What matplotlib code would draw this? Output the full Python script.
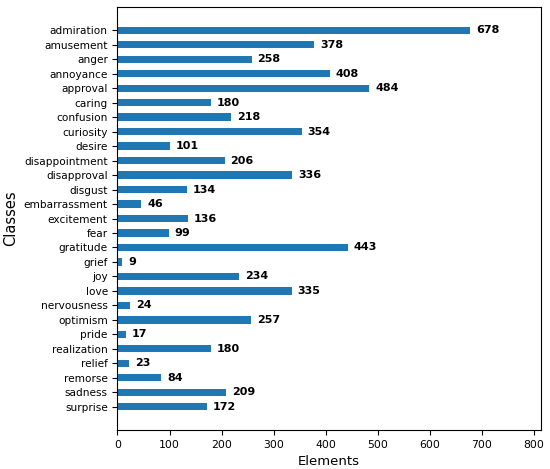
import matplotlib
matplotlib.use("Agg")
import matplotlib.pyplot as plt

classes = ["admiration", "amusement", "anger", "annoyance", "approval", "caring",
           "confusion", "curiosity", "desire", "disappointment", "disapproval",
           "disgust", "embarrassment", "excitement", "fear", "gratitude", "grief",
           "joy", "love", "nervousness", "optimism", "pride", "realization",
           "relief", "remorse", "sadness", "surprise"]
counts = [678, 378, 258, 408, 484, 180, 218, 354, 101, 206, 336, 134, 46, 136,
          99, 443, 9, 234, 335, 24, 257, 17, 180, 23, 84, 209, 172]

fig = plt.figure(figsize=(5.5, 4.69), dpi=100)
ax = fig.add_axes([0.2136, 0.0832, 0.77, 0.9018])

pos = range(len(classes))
ax.barh(pos, counts, height=0.5, color="#1f77b4")
for p, c in zip(pos, counts):
    ax.text(c + 11, p, str(c), va="center", ha="left", fontsize=8, fontweight="bold")

ax.set_yticks(list(pos))
ax.set_yticklabels(classes, fontsize=7.6)
ax.set_xticks(range(0, 801, 100))
ax.tick_params(axis="x", labelsize=7.8)
ax.set_xlim(0, max(counts) * 1.2)
ax.set_ylim(len(classes) - 1 + 1.6, -1.6)
ax.set_xlabel("Elements", fontsize=9.5)
ax.set_ylabel("Classes", fontsize=10.5, labelpad=4)

fig.savefig("out.png", dpi=100)
